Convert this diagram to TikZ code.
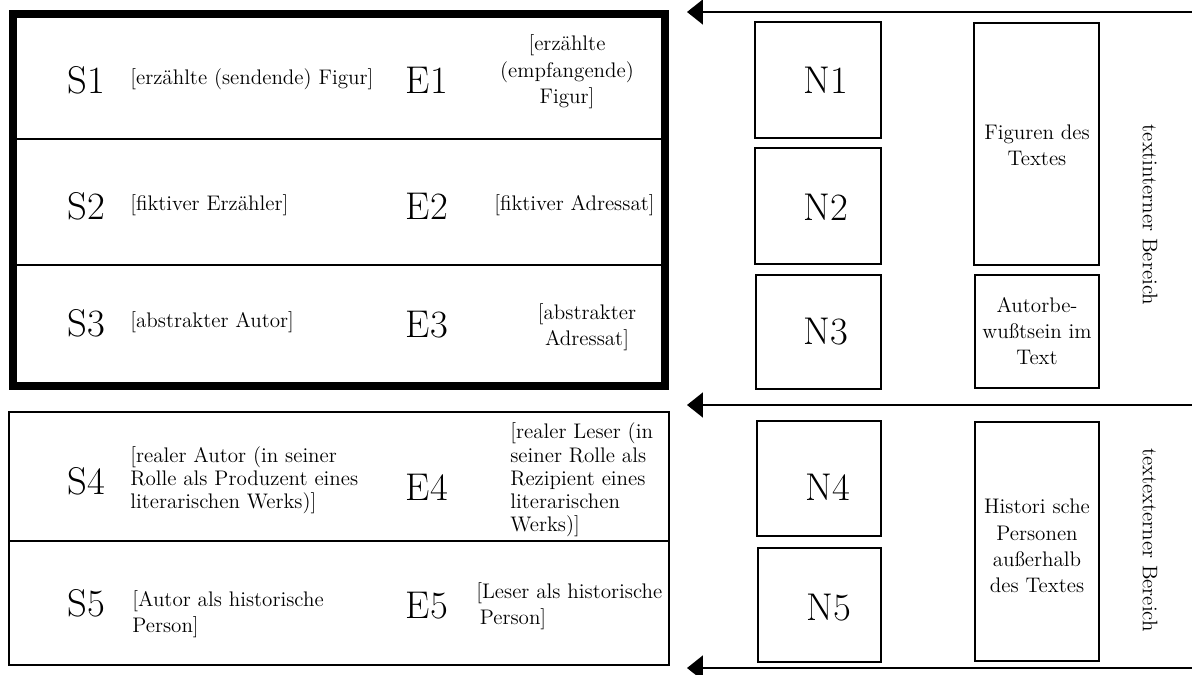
\documentclass[tikz,border=0pt]{standalone}
\usepackage{fontspec}
\usepackage{amssymb}
\usepackage{amsmath}
\usepackage{tikz}
\usetikzlibrary{arrows.meta}

\begin{document}
\begin{tikzpicture}[x=0.02cm,y=-0.02cm,
    sym/.style={font=\fontsize{22}{26}\selectfont,inner sep=0pt},
    txt/.style={font=\fontsize{12}{15}\selectfont,inner sep=0pt},
    tight/.style={font=\fontsize{12}{13.2}\selectfont,inner sep=0pt},
    box/.style={line width=1pt},
    pfeil/.style={line width=1.3pt,arrows={-Triangle[length=9pt,width=14pt]}}]
    \useasboundingbox (0,0) rectangle (1192,675);

    \draw [line width=4.5pt] (13,14) rectangle (665,386);
    \draw [line width=0.8pt] (13,139) -- (665,139);
    \draw [line width=0.8pt] (13,265) -- (665,265);

    \draw [box] (9,412) rectangle (669,665);
    \draw [box] (9,541) -- (669,541);

    \node [sym] (s1) at (86,80) {S1};
    \node [txt,anchor=west] (s1t) at (130,79) {[erzählte (sendende) Figur]};
    \node [sym] (e1) at (427,80) {E1};
    \node [txt,align=center] (e1t) at (567,72) {[erzählte\\(empfangende)\\Figur]};

    \node [sym] (s2) at (86,206) {S2};
    \node [txt,anchor=west] (s2t) at (130,205) {[fiktiver Erzähler]};
    \node [sym] (e2) at (427,206) {E2};
    \node [txt,anchor=west] (e2t) at (494,205) {[fiktiver Adressat]};

    \node [sym] (s3) at (86,323) {S3};
    \node [txt,anchor=west] (s3t) at (130,322) {[abstrakter Autor]};
    \node [sym] (e3) at (427,325) {E3};
    \node [txt,align=center] (e3t) at (587,327) {[abstrakter\\Adressat]};

    \node [sym] (s4) at (86,481) {S4};
    \node [tight,anchor=west,align=left] (s4t) at (130,480) {[realer Autor (in seiner\\Rolle als Produzent eines\\literarischen Werks)]};
    \node [sym] (e4) at (427,487) {E4};
    \node [tight,anchor=west,align=left] (e4t) at (510,480) {[realer Leser (in\\seiner Rolle als\\Rezipient eines\\literarischen\\Werks)]};

    \node [sym] (s5) at (86,603) {S5};
    \node [txt,anchor=west,align=left] (s5t) at (132,614) {[Autor als historische\\Person]};
    \node [sym] (e5) at (427,606) {E5};
    \node [txt,anchor=west,align=left] (e5t) at (476,606) {[Leser als historische\\\hspace{2pt}Person]};

    \coordinate (a1) at (1192,12);
    \coordinate (b1) at (687,12);
    \coordinate (a2) at (1192,405);
    \coordinate (b2) at (687,405);
    \coordinate (a3) at (1192,668);
    \coordinate (b3) at (687,668);
    \draw [pfeil] (a1) -- (b1);
    \draw [pfeil] (a2) -- (b2);
    \draw [pfeil] (a3) -- (b3);

    \draw [box] (755,22) rectangle (881,138);
    \draw [box] (755,148) rectangle (881,264);
    \draw [box] (756,275) rectangle (881,389);
    \draw [box] (757,421) rectangle (881,536);
    \draw [box] (758,548) rectangle (881,662);
    \node [sym] (n1) at (826,80) {N1};
    \node [sym] (n2) at (826,207) {N2};
    \node [sym] (n3) at (826,332) {N3};
    \node [sym] (n4) at (828,487) {N4};
    \node [sym] (n5) at (829,608) {N5};

    \draw [box] (974,23) rectangle (1099,265);
    \draw [box] (975,275) rectangle (1099,388);
    \draw [box] (975,422) rectangle (1099,661);
    \node [txt,align=center] (fig) at (1037,145) {Figuren des\\Textes};
    \node [txt,align=center] (bew) at (1037,331) {Autorbe-\\wußtsein im\\Text};
    \node [txt,align=center] (hist) at (1037,546) {Histori sche\\Personen\\außerhalb\\des Textes};

    \node [txt,rotate=-90] (intern) at (1150,215) {textinterner Bereich};
    \node [txt,rotate=-90] (extern) at (1150,540) {textexterner Bereich};
\end{tikzpicture}
\end{document}
